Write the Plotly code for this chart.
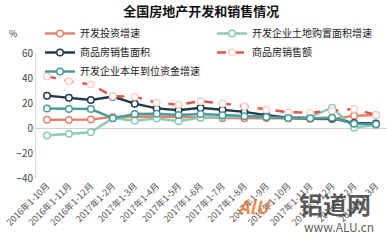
import plotly.graph_objects as go

categories = ["2016年1-10月", "2016年1-11月", "2016年1-12月", "2017年1-2月", "2017年1-3月",
              "2017年1-4月", "2017年1-5月", "2017年1-6月", "2017年1-7月", "2017年1-8月",
              "2017年1-9月", "2017年1-10月", "2017年1-11月", "2017年1-12月", "2018年1-2月", "2018年1-3月"]

invest_growth = [6.6, 6.5, 6.9, 8.9, 9.1, 9.3, 8.8, 8.5, 7.9, 7.9, 8.1, 7.8, 7.5, 7.0, 9.9, 10.4]
land_growth = [-6.0, -4.6, -3.4, 7.9, 5.8, 7.6, 5.5, 8.3, 8.8, 9.5, 9.0, 8.5, 8.8, 16.3, 0.3, 2.5]
sales_area = [25.9, 24.3, 22.5, 25.1, 19.5, 15.7, 14.3, 16.1, 14.7, 12.9, 10.3, 8.2, 7.9, 7.7, 4.1, 3.6]
sales_amount = [41.3, 37.5, 34.8, 25.4, 25.1, 20.2, 18.6, 21.5, 19.6, 17.2, 14.6, 12.6, 12.2, 13.7, 15.3, 10.4]
funds_growth = [15.7, 15.3, 15.2, 7.9, 11.3, 11.4, 10.5, 11.2, 10.3, 9.5, 8.9, 8.0, 7.9, 8.2, 3.5, 3.0]

series = [
    ("开发投资增速", invest_growth, "#E4836C", "solid", "#E4836C"),
    ("开发企业土地购置面积增速", land_growth, "#8EC9B3", "solid", "#8EC9B3"),
    ("商品房销售面积", sales_area, "#22394A", "solid", "#22394A"),
    ("商品房销售额", sales_amount, "#E0584C", "dash", "#F6D3C8"),
    ("开发企业本年到位资金增速", funds_growth, "#4C9A9C", "solid", "#4C9A9C"),
]

fig = go.Figure()
for name, vals, color, dash, mcol in series:
    fig.add_trace(go.Scatter(
        x=categories, y=vals, name=name, mode="lines+markers",
        line=dict(color=color, width=2.5, dash=dash),
        marker=dict(size=6.5, color="white", line=dict(color=mcol, width=1.5)),
    ))

font_family = "Noto Sans CJK SC, Noto Sans, sans-serif"
fig.update_layout(
    width=387, height=241,
    margin=dict(l=36, r=0, t=53, b=63, autoexpand=False),
    paper_bgcolor="white", plot_bgcolor="white",
    font=dict(family=font_family, size=10, color="#333"),
    title=dict(text="<b>全国房地产开发和销售情况</b>", x=0.52, xanchor="center",
               y=0.953, yanchor="middle", font=dict(size=13, color="#111")),
    showlegend=True,
    legend=dict(orientation="h", x=4/351, y=1+34/125, xanchor="left", yanchor="top",
                entrywidth=127, entrywidthmode="pixels",
                font=dict(size=10, color="#222"), bgcolor="rgba(0,0,0,0)",
                itemwidth=30, tracegroupgap=0),
    xaxis=dict(type="category", range=[-0.5, 15.5], showgrid=False, showline=False,
               tickangle=-45, tickfont=dict(size=9, color="#555"), ticks=""),
    yaxis=dict(range=[-40, 60], dtick=20, showgrid=False, zeroline=True,
               zerolinecolor="#d0d0d0", zerolinewidth=1, showline=True,
               linecolor="#dddddd", linewidth=1, ticks="",
               tickfont=dict(size=10, color="#444")),
    annotations=[
        dict(text="%", xref="paper", yref="paper", x=-0.065, y=1.16, xanchor="center",
             yanchor="middle", showarrow=False, font=dict(size=9, color="#333")),
        dict(text="<b>铝道网</b>", xref="paper", yref="paper", x=0.96, y=-0.2,
             xanchor="right", yanchor="middle", showarrow=False,
             font=dict(size=24, color="rgba(60,60,60,0.85)")),
        dict(text="www.ALU.cn", xref="paper", yref="paper", x=0.97, y=-0.39,
             xanchor="right", yanchor="middle", showarrow=False,
             font=dict(size=12, color="rgba(60,60,60,0.85)")),
        dict(text="<i><b>AlU</b></i>", xref="paper", yref="paper", x=0.62, y=-0.22,
             xanchor="center", yanchor="middle", showarrow=False,
             font=dict(size=18, color="rgba(232,120,50,0.85)")),
    ],
)

fig.write_html("out.html")
